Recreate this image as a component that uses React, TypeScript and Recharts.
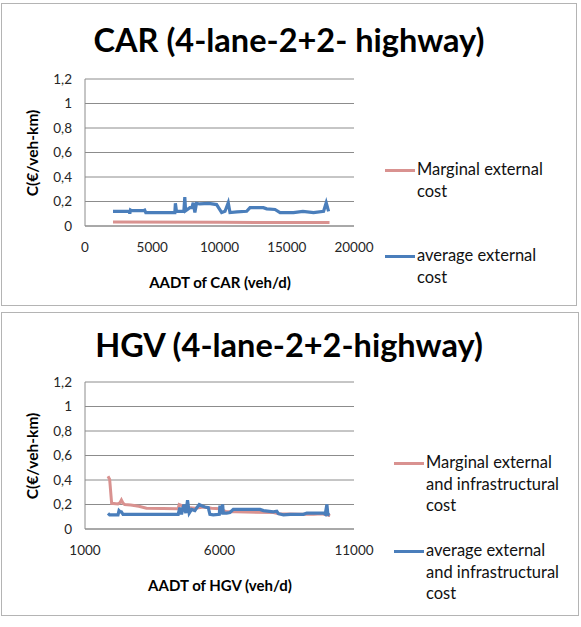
import { LineChart, Line, XAxis, YAxis, CartesianGrid } from 'recharts';

// CAR chart
const carMarginalX = [2080, 10000, 18180];
const carMarginalY = [0.032, 0.03, 0.028];

const carAverageX = [
  2080, 3300, 3330, 3380, 3450, 4350, 4440, 4520, 6680, 6720, 6800, 7050, 7350, 7420, 7480,
  7800, 7950, 8045, 8170, 8290, 8540, 9200, 9785, 10160, 10410, 10650, 10780, 11300, 12020,
  12270, 13260, 13510, 14130, 14500, 15500, 16200, 16990, 17740, 17935, 18110,
];
const carAverageY = [
  0.12, 0.12, 0.1, 0.13, 0.125, 0.125, 0.13, 0.11, 0.11, 0.185, 0.12, 0.12, 0.12, 0.235, 0.125,
  0.15, 0.15, 0.19, 0.11, 0.185, 0.18, 0.185, 0.175, 0.11, 0.12, 0.19, 0.11, 0.115, 0.12,
  0.15, 0.15, 0.14, 0.135, 0.11, 0.11, 0.12, 0.11, 0.12, 0.19, 0.12,
];

// HGV chart
const hgvMarginalX = [
  1855, 1917, 1990, 2227, 2300, 2353, 2414, 2476, 2700, 3000, 3285, 4462, 4500, 4600, 4800,
  5100, 5400, 5700, 6000, 6265, 6600, 8004, 8200, 9000, 9500, 9800, 10116,
];
const hgvMarginalY = [
  0.43, 0.405, 0.21, 0.205, 0.215, 0.237, 0.21, 0.2, 0.195, 0.185, 0.17, 0.165, 0.2, 0.19, 0.175,
  0.17, 0.18, 0.17, 0.165, 0.14, 0.14, 0.135, 0.125, 0.12, 0.12, 0.125, 0.11,
];

const hgvAverageX = [
  1855, 1917, 2227, 2265, 2314, 2352, 2414, 4464, 4526, 4588, 4675, 4749, 4812, 4874, 4961,
  5085, 5147, 5246, 5333, 5457, 5582, 5644, 5768, 5992, 6017, 6041, 6116, 6141, 6265, 6389,
  6513, 7507, 7632, 8004, 8129, 8191, 8377, 8626, 9122, 9247, 9868, 9930, 9992, 10029, 10091,
];
const hgvAverageY = [
  0.128, 0.115, 0.115, 0.15, 0.14, 0.14, 0.12, 0.12, 0.175, 0.12, 0.2, 0.13, 0.235, 0.13, 0.16,
  0.15, 0.17, 0.2, 0.19, 0.18, 0.175, 0.12, 0.115, 0.12, 0.19, 0.12, 0.2, 0.13, 0.13, 0.135,
  0.16, 0.16, 0.15, 0.14, 0.145, 0.125, 0.115, 0.12, 0.12, 0.13, 0.13, 0.12, 0.2, 0.12, 0.115,
];

const yTicks = [0, 0.2, 0.4, 0.6, 0.8, 1, 1.2];
const carXTicks = [0, 5000, 10000, 15000, 20000];
const hgvXTicks = [1000, 6000, 11000];

const RED = '#d99290';
const BLUE = '#4a7ebb';
const GRID = '#8c8c8c';
const FONT = 'Lato, "Open Sans", sans-serif';

const toPoints = (xs: number[], ys: number[]) => xs.map((x, i) => ({ x, y: ys[i] }));
const fmt = (v: number) => String(v).replace('.', ',');

interface PanelProps {
  top: number;
  height: number;
  right: number;
  title: string;
  xLabel: string;
  xDomain: [number, number];
  xTicks: number[];
  plotTop: number;
  plotBottom: number;
  marginal: { x: number; y: number }[];
  average: { x: number; y: number }[];
  legendX: number;
  legend1: string[];
  legend2: string[];
  legend1Y: number;
  legend2Y: number;
  titleY: number;
  xLabelY: number;
}

// gray frame around each chart
const Frame = (p: PanelProps) => (
  <div
    style={{
      position: 'absolute',
      left: 1,
      top: p.top,
      width: p.right - 1,
      height: p.height,
      border: '1px solid #b4b4b4',
      boxSizing: 'border-box',
    }}
  />
);

const Chart = (p: PanelProps) => {
  const chartH = 310;
  const y0 = p.top - 3;
  const xAxisH = 30;
  return (
    <div style={{ position: 'absolute', left: 0, top: y0, width: 581, height: chartH }}>
      <LineChart
        width={581}
        height={chartH}
        margin={{ top: p.plotTop - y0, right: 227, left: 25, bottom: chartH - (p.plotBottom - y0) - xAxisH }}
      >
        <CartesianGrid vertical={false} stroke={GRID} strokeWidth={1} />
        <XAxis
          type="number"
          dataKey="x"
          domain={p.xDomain}
          ticks={p.xTicks}
          allowDataOverflow
          height={xAxisH}
          tickLine={false}
          axisLine={{ stroke: GRID }}
          tickSize={0}
          tickMargin={16}
          tick={{ fontSize: 13.5, fill: '#262626', fontFamily: FONT }}
        />
        <YAxis
          type="number"
          domain={[0, 1.2]}
          ticks={yTicks}
          width={60}
          tickLine={false}
          axisLine={{ stroke: GRID }}
          tickSize={0}
          tickMargin={13}
          tickFormatter={fmt}
          tick={{ fontSize: 13.5, fill: '#262626', fontFamily: FONT }}
        />
        <Line data={p.marginal} dataKey="y" type="linear" stroke={RED} strokeWidth={3} dot={false} isAnimationActive={false} />
        <Line data={p.average} dataKey="y" type="linear" stroke={BLUE} strokeWidth={3.2} dot={false} isAnimationActive={false} />
      </LineChart>
    </div>
  );
};

const Texts = (p: PanelProps) => {
  const lineH = 21.5;
  const legendItem = (lines: string[], y: number, color: string) => (
    <div style={{ position: 'absolute', left: p.legendX, top: y - lineH / 2 }}>
      <div style={{ position: 'absolute', left: 0, top: lineH / 2 - 1.5, width: 30, height: 3, background: color }} />
      {lines.map((t, i) => (
        <div
          key={i}
          style={{ position: 'absolute', left: 32, top: i * lineH, lineHeight: `${lineH}px`, fontSize: 16.5, whiteSpace: 'nowrap', color: '#111' }}
        >
          {t}
        </div>
      ))}
    </div>
  );
  const yMid = (p.plotTop + p.plotBottom) / 2;
  return (
    <div style={{ position: 'absolute', left: 0, top: 0, fontFamily: FONT }}>
      <div
        style={{
          position: 'absolute',
          left: 0,
          width: 578,
          top: p.titleY - 20,
          lineHeight: '40px',
          textAlign: 'center',
          fontSize: 32.5,
          fontWeight: 700,
          color: '#000',
          whiteSpace: 'nowrap',
        }}
      >
        {p.title}
      </div>
      <div
        style={{
          position: 'absolute',
          left: 32 - 60,
          top: yMid - 10,
          width: 120,
          lineHeight: '20px',
          textAlign: 'center',
          fontSize: 15.5,
          fontWeight: 700,
          transform: 'rotate(-90deg)',
          whiteSpace: 'nowrap',
          color: '#000',
        }}
      >
        C(€/veh-km)
      </div>
      <div
        style={{
          position: 'absolute',
          left: 220 - 120,
          top: p.xLabelY - 10,
          width: 240,
          lineHeight: '20px',
          textAlign: 'center',
          fontSize: 15,
          fontWeight: 700,
          whiteSpace: 'nowrap',
          color: '#000',
        }}
      >
        {p.xLabel}
      </div>
      {legendItem(p.legend1, p.legend1Y, RED)}
      {legendItem(p.legend2, p.legend2Y, BLUE)}
    </div>
  );
};

const carPanel: PanelProps = {
  top: 3,
  height: 303,
  right: 577,
  title: 'CAR (4-lane-2+2- highway)',
  xLabel: 'AADT of CAR (veh/d)',
  xDomain: [0, 20000],
  xTicks: carXTicks,
  plotTop: 79,
  plotBottom: 226,
  marginal: toPoints(carMarginalX, carMarginalY),
  average: toPoints(carAverageX, carAverageY),
  legendX: 385,
  legend1: ['Marginal external', 'cost'],
  legend2: ['average external', 'cost'],
  legend1Y: 170,
  legend2Y: 256,
  titleY: 40,
  xLabelY: 282,
};

const hgvPanel: PanelProps = {
  top: 312,
  height: 304,
  right: 579,
  title: 'HGV (4-lane-2+2-highway)',
  xLabel: 'AADT of HGV (veh/d)',
  xDomain: [1000, 11000],
  xTicks: hgvXTicks,
  plotTop: 382,
  plotBottom: 529,
  marginal: toPoints(hgvMarginalX, hgvMarginalY),
  average: toPoints(hgvAverageX, hgvAverageY),
  legendX: 394,
  legend1: ['Marginal external', 'and infrastructural', 'cost'],
  legend2: ['average external', 'and infrastructural', 'cost'],
  legend1Y: 463,
  legend2Y: 551,
  titleY: 345,
  xLabelY: 585,
};

export default function App() {
  return (
    <div style={{ position: 'absolute', left: 0, top: 0, width: 581, height: 627, background: '#fff', overflow: 'hidden' }}>
      <Frame {...carPanel} />
      <Frame {...hgvPanel} />
      <Chart {...carPanel} />
      <Chart {...hgvPanel} />
      <Texts {...carPanel} />
      <Texts {...hgvPanel} />
    </div>
  );
}
